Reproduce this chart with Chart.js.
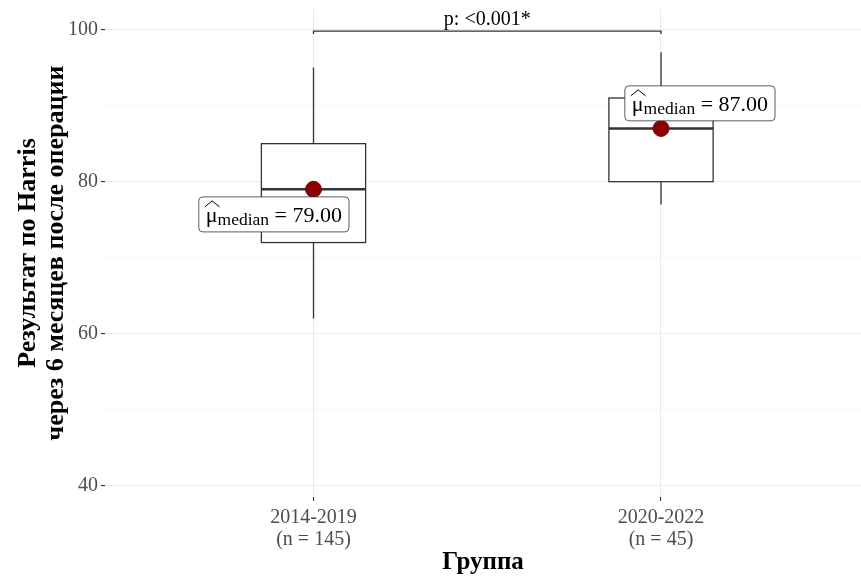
<!DOCTYPE html>
<html>
<head>
<meta charset="utf-8">
<script src="https://cdn.jsdelivr.net/npm/chart.js@4.4.1/dist/chart.umd.min.js"></script>
<style>
  html, body { margin: 0; padding: 0; background: #fff; }
</style>
</head>
<body>
<canvas id="chart" width="861" height="576"></canvas>
<script>
// values
const groups = ["2014-2019", "2020-2022"];
const groupN = [145, 45];
const whiskerLow = [62, 77];
const q1 = [72, 80];
const medians = [79, 87];
const q3 = [85, 91];
const whiskerHigh = [95, 97];
const medianLabels = ["79.00", "87.00"];
const yTicks = [40, 50, 60, 70, 80, 90, 100];
const pText = "p: <0.001*";
const bracketValue = 99.8;

const SERIF = '"Liberation Serif", "DejaVu Serif", serif';
const boxHalf = 0.15;

// label placement (data units), as repelled in the original
const labelX = [0.886, 2.112];
const labelY = [75.7, 90.3];

const boxPlugin = {
  id: "boxes",
  beforeDatasetsDraw(chart) {
    const { ctx, scales: { x, y } } = chart;
    ctx.save();
    ctx.strokeStyle = "#333333";
    groups.forEach((g, i) => {
      const cx = x.getPixelForValue(i + 1);
      const x0 = x.getPixelForValue(i + 1 - boxHalf);
      const x1 = x.getPixelForValue(i + 1 + boxHalf);
      ctx.lineWidth = 1.3;
      ctx.beginPath();
      ctx.moveTo(cx, y.getPixelForValue(whiskerLow[i]));
      ctx.lineTo(cx, y.getPixelForValue(q1[i]));
      ctx.moveTo(cx, y.getPixelForValue(q3[i]));
      ctx.lineTo(cx, y.getPixelForValue(whiskerHigh[i]));
      ctx.stroke();
      const top = y.getPixelForValue(q3[i]);
      const bot = y.getPixelForValue(q1[i]);
      ctx.fillStyle = "#ffffff";
      ctx.fillRect(x0, top, x1 - x0, bot - top);
      ctx.strokeRect(x0, top, x1 - x0, bot - top);
      ctx.lineWidth = 2.6;
      ctx.beginPath();
      const my = y.getPixelForValue(medians[i]);
      ctx.moveTo(x0, my);
      ctx.lineTo(x1, my);
      ctx.stroke();
    });
    ctx.restore();
  }
};

function roundRect(ctx, x, y, w, h, r) {
  ctx.beginPath();
  ctx.moveTo(x + r, y);
  ctx.lineTo(x + w - r, y);
  ctx.quadraticCurveTo(x + w, y, x + w, y + r);
  ctx.lineTo(x + w, y + h - r);
  ctx.quadraticCurveTo(x + w, y + h, x + w - r, y + h);
  ctx.lineTo(x + r, y + h);
  ctx.quadraticCurveTo(x, y + h, x, y + h - r);
  ctx.lineTo(x, y + r);
  ctx.quadraticCurveTo(x, y, x + r, y);
  ctx.closePath();
}

const labelPlugin = {
  id: "annotations",
  afterDatasetsDraw(chart) {
    const { ctx, scales: { x, y } } = chart;
    ctx.save();

    // significance bracket
    const bx0 = x.getPixelForValue(1);
    const bx1 = x.getPixelForValue(2);
    const by = y.getPixelForValue(bracketValue);
    const tip = y.getPixelForValue(bracketValue - 0.4);
    ctx.strokeStyle = "#333333";
    ctx.lineWidth = 1.3;
    ctx.beginPath();
    ctx.moveTo(bx0, tip);
    ctx.lineTo(bx0, by);
    ctx.lineTo(bx1, by);
    ctx.lineTo(bx1, tip);
    ctx.stroke();
    ctx.fillStyle = "#000";
    ctx.font = "20px " + SERIF;
    ctx.textAlign = "center";
    ctx.textBaseline = "alphabetic";
    ctx.fillText(pText, x.getPixelForValue(1.5), by - 6);

    // median labels
    const mainFont = "22px " + SERIF;
    const subFont = "17.5px " + SERIF;
    medianLabels.forEach((val, i) => {
      ctx.font = mainFont;
      const wMu = ctx.measureText("\u03bc").width;
      const wRest = ctx.measureText(" = " + val).width;
      ctx.font = subFont;
      const wSub = ctx.measureText("median").width;
      const total = wMu + wSub + wRest;
      const pad = 7;
      const w = total + pad * 2;
      const h = 35;
      const cx = x.getPixelForValue(labelX[i]);
      const cy = y.getPixelForValue(labelY[i]);
      const left = cx - w / 2;
      const top = cy - h / 2;
      roundRect(ctx, left, top, w, h, 4);
      ctx.fillStyle = "#ffffff";
      ctx.fill();
      ctx.strokeStyle = "#333333";
      ctx.lineWidth = 0.8;
      ctx.stroke();

      const base = cy + 8;
      let tx = left + pad;
      ctx.fillStyle = "#000";
      ctx.textAlign = "left";
      ctx.font = mainFont;
      ctx.fillText("\u03bc", tx, base);
      // hat over mu
      ctx.beginPath();
      ctx.lineWidth = 1;
      ctx.strokeStyle = "#000";
      ctx.moveTo(tx - 1, top + 10);
      ctx.lineTo(tx + wMu / 2 + 0.5, top + 4);
      ctx.lineTo(tx + wMu + 2, top + 10);
      ctx.stroke();
      tx += wMu;
      ctx.font = subFont;
      ctx.fillText("median", tx, base + 3);
      tx += wSub;
      ctx.font = mainFont;
      ctx.fillText(" = " + val, tx, base);
    });
    ctx.restore();
  }
};

new Chart(document.getElementById("chart"), {
  type: "scatter",
  data: {
    datasets: [{
      label: "median",
      data: medians.map((m, i) => ({ x: i + 1, y: m })),
      backgroundColor: "#8B0000",
      borderColor: "#8B0000",
      pointRadius: 8,
      pointHoverRadius: 8
    }]
  },
  options: {
    responsive: false,
    devicePixelRatio: 1,
    animation: false,
    layout: { autoPadding: false, padding: { top: 9, left: 0, right: 0, bottom: 0 } },
    plugins: {
      legend: { display: false },
      tooltip: { enabled: false }
    },
    scales: {
      x: {
        type: "linear",
        min: 0.4,
        max: 2.5755,
        afterBuildTicks: (s) => { s.ticks = groups.map((g, i) => ({ value: i + 1 })); },
        afterFit: (s) => { s.height = 79; s.paddingLeft = 0; s.paddingRight = 0; },
        border: { display: false },
        grid: {
          color: "#EBEBEB",
          lineWidth: 1.1,
          tickLength: 4,
          tickColor: "#333333"
        },
        ticks: {
          color: "#4D4D4D",
          font: { family: SERIF, size: 20, lineHeight: 1.1 },
          padding: 6,
          maxRotation: 0,
          callback: (v) => {
            const i = Math.round(v) - 1;
            return [groups[i], "(n = " + groupN[i] + ")"];
          }
        },
        title: {
          display: true,
          text: "Группа",
          color: "#000",
          font: { family: SERIF, size: 25, weight: "bold", lineHeight: 1.05 },
          padding: { top: 0, bottom: 0 }
        }
      },
      y: {
        min: 38.55,
        max: 102.7,
        afterBuildTicks: (s) => { s.ticks = yTicks.map((v) => ({ value: v })); },
        afterFit: (s) => { s.width = 105; s.paddingTop = 0; s.paddingBottom = 0; },
        border: { display: false },
        grid: {
          color: (c) => (c.tick && c.tick.value % 20 === 0 ? "#EBEBEB" : "#F3F3F3"),
          lineWidth: (c) => (c.tick && c.tick.value % 20 === 0 ? 1.1 : 0.8),
          tickLength: 4,
          tickColor: (c) => (c.tick && c.tick.value % 20 === 0 ? "#333333" : "rgba(0,0,0,0)")
        },
        ticks: {
          color: "#4D4D4D",
          font: { family: SERIF, size: 20 },
          padding: 3,
          callback: (v) => (v % 20 === 0 ? String(v) : "")
        },
        title: {
          display: true,
          text: ["Результат по Harris", "через 6 месяцев после операции"],
          color: "#000",
          font: { family: SERIF, size: 26, weight: "bold", lineHeight: 1.08 },
          padding: { top: 14, bottom: 0 }
        }
      }
    }
  },
  plugins: [boxPlugin, labelPlugin]
});
</script>
</body>
</html>
